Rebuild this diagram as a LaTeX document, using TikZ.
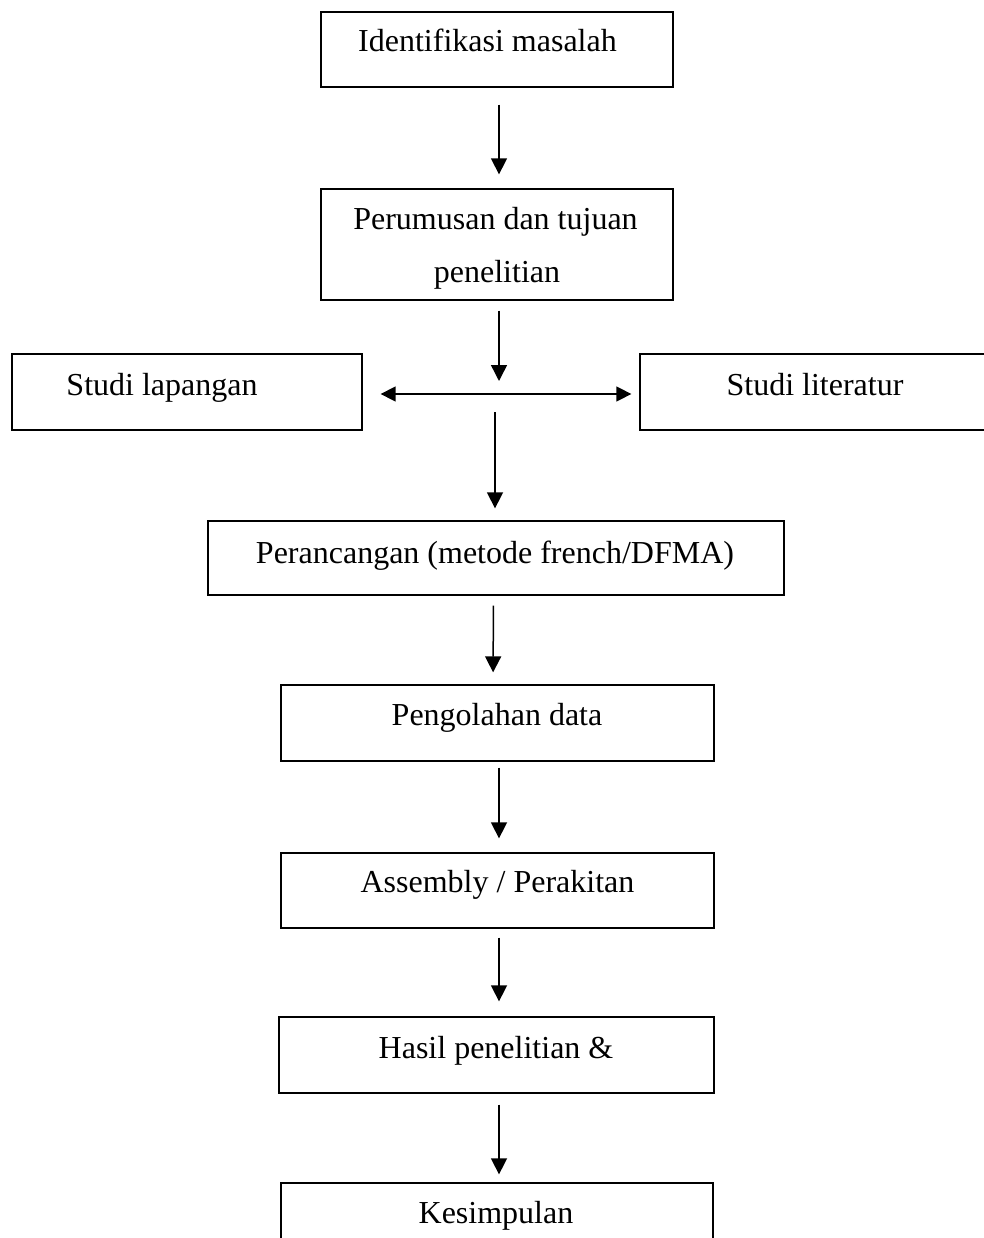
\documentclass[tikz,border=0pt]{standalone}
\usepackage{fontspec}
\setmainfont{Liberation Serif}
\usetikzlibrary{arrows.meta}
\begin{document}
\begin{tikzpicture}[x=1pt,y=-1pt,
  box/.style={draw=black, line width=1.3pt, inner sep=0pt, rectangle},
  lbl/.style={anchor=base, inner sep=0pt, font=\fontsize{32}{38}\selectfont},
  arr/.style={line width=1.5pt, -{Triangle[length=16pt,width=16pt]}},
  darr/.style={line width=1.5pt, {Triangle[length=15pt,width=15pt]}-{Triangle[length=15pt,width=15pt]}}]
\useasboundingbox (0,0) rectangle (983,1238);
% boxes
\node[box, minimum width=352pt, minimum height=75pt] (b1) at (497,49.5) {};
\node[box, minimum width=352pt, minimum height=111pt] (b2) at (497,244.5) {};
\node[box, minimum width=350pt, minimum height=76pt] (lap) at (187,392) {};
\node[box, minimum width=360pt, minimum height=76pt] (lit) at (820,392) {};
\node[box, minimum width=576pt, minimum height=74pt] (b3) at (496,558) {};
\node[box, minimum width=433pt, minimum height=76pt] (b4) at (497.5,723) {};
\node[box, minimum width=433pt, minimum height=75pt] (b5) at (497.5,890.5) {};
\node[box, minimum width=435pt, minimum height=76pt] (b6) at (496.5,1055) {};
\node[box, minimum width=432pt, minimum height=77pt] (b7) at (497,1221.5) {};
% texts
\node[lbl] (t1) at (487.5,52) {Identifikasi masalah};
\node[lbl] (t2a) at (495.5,230) {Perumusan dan tujuan};
\node[lbl] (t2b) at (497,283) {penelitian};
\node[lbl] (tlap) at (162,395) {Studi lapangan};
\node[lbl] (tlit) at (815,395) {Studi literatur};
\node[lbl] (t3) at (495,563) {Perancangan (metode french/DFMA)};
\node[lbl] (t4) at (497,725) {Pengolahan data};
\node[lbl] (t5) at (497.5,892) {Assembly / Perakitan};
\node[lbl] (t6) at (496,1058) {Hasil penelitian \&};
\node[lbl] (t7) at (496,1223) {Kesimpulan};
% junction points
\coordinate (j1) at (499,381);
\coordinate (j2) at (495,412);
% connectors
\draw[arr, shorten <=17pt, shorten >=14pt] ([xshift=2pt]b1.south) -- ([xshift=2pt]b2.north);
\draw[arr, shorten <=10pt] ([xshift=2pt]b2.south) -- (j1);
\draw[darr, shorten <=18pt, shorten >=8pt] ([yshift=-2pt]lap.east) -- ([yshift=-2pt]lit.west);
\draw[arr, shorten >=12pt] (j2) -- ([xshift=-1pt]b3.north);
\draw[arr, shorten <=10pt, shorten >=12pt] ([xshift=-2.5pt]b3.south) -- ([xshift=-4.5pt]b4.north);
\draw[arr, shorten <=6pt, shorten >=14pt] ([xshift=1.5pt]b4.south) -- ([xshift=1.5pt]b5.north);
\draw[arr, shorten <=9pt, shorten >=15pt] ([xshift=1.5pt]b5.south) -- ([xshift=2.5pt]b6.north);
\draw[arr, shorten <=11pt, shorten >=8pt] ([xshift=2.5pt]b6.south) -- ([xshift=2pt]b7.north);
\end{tikzpicture}
\end{document}
